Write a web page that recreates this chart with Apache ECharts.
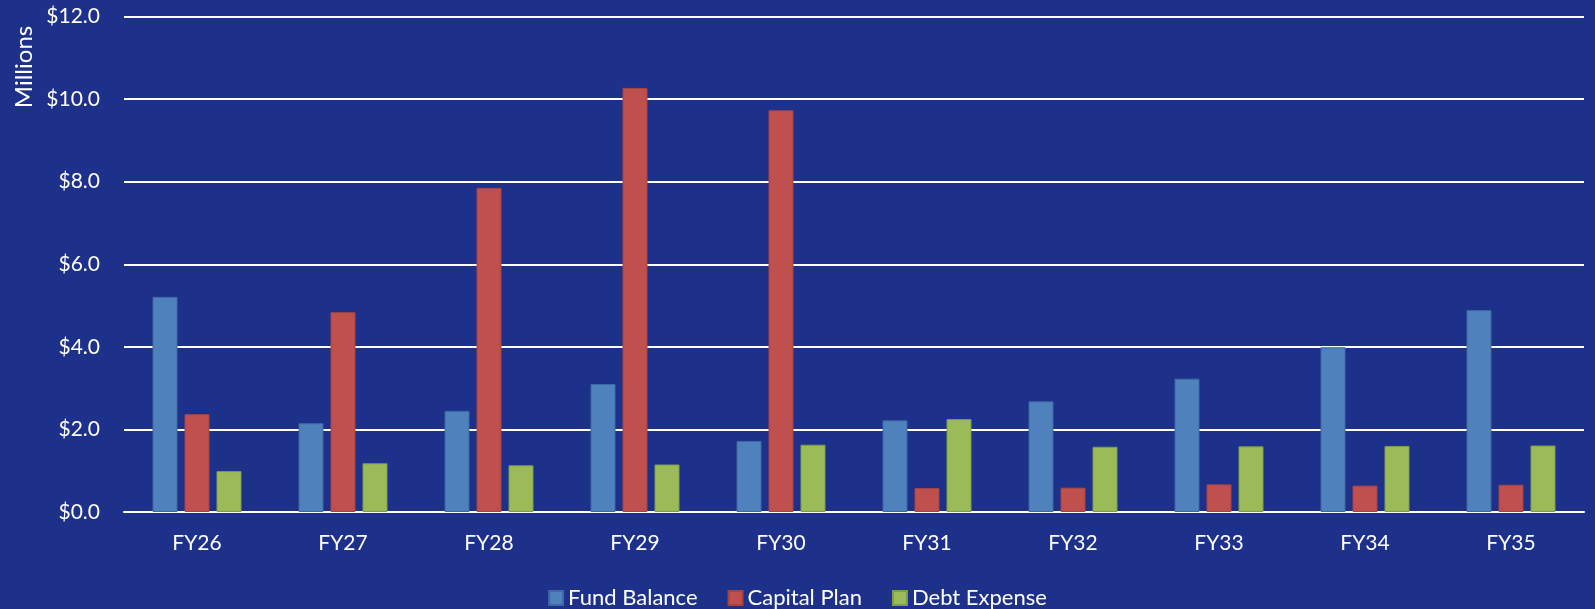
<!DOCTYPE html>
<html>
<head>
<meta charset="utf-8">
<script src="https://cdn.jsdelivr.net/npm/echarts@6/dist/echarts.min.js"></script>
<style>
  html, body { margin: 0; padding: 0; background: #1D318A; }
  #chart { width: 1595px; height: 609px; }
</style>
</head>
<body>
<div id="chart"></div>
<script>
const categories = ['FY26','FY27','FY28','FY29','FY30','FY31','FY32','FY33','FY34','FY35'];
const fundBalance = [5.21, 2.15, 2.45, 3.10, 1.72, 2.22, 2.68, 3.23, 3.99, 4.89];
const capitalPlan = [2.37, 4.84, 7.85, 10.27, 9.73, 0.58, 0.59, 0.67, 0.64, 0.66];
const debtExpense = [0.99, 1.18, 1.13, 1.15, 1.63, 2.25, 1.58, 1.59, 1.60, 1.61];
const seriesNames = ['Fund Balance', 'Capital Plan', 'Debt Expense'];
const yTicks = [0, 2, 4, 6, 8, 10, 12];

const FONT = 'Lato, "Open Sans", sans-serif';
const chart = echarts.init(document.getElementById('chart'));

function bar(name, data, color, border) {
  return {
    name: name, type: 'bar', data: data,
    barWidth: 25, barGap: '28%',
    itemStyle: { color: color, borderColor: border, borderWidth: 1 },
    emphasis: { disabled: true }
  };
}

chart.setOption({
  backgroundColor: '#1D318A',
  animation: false,
  grid: { left: 124, right: 11, top: 16.5, bottom: 97, containLabel: false },
  legend: {
    data: seriesNames,
    top: 582, left: 'center',
    itemWidth: 14, itemHeight: 14, itemGap: 30,
    icon: 'rect',
    textStyle: { color: '#FFFFFF', fontFamily: FONT, fontSize: 22 }
  },
  graphic: [{
    type: 'text',
    x: 24, y: 67,
    rotation: Math.PI / 2,
    style: {
      text: 'Millions', fill: '#FFFFFF', font: '24px ' + FONT,
      align: 'center', verticalAlign: 'middle'
    }
  }],
  xAxis: {
    type: 'category', data: categories,
    axisLine: { show: true, lineStyle: { color: '#FFFFFF', width: 2 } },
    axisTick: { show: false },
    axisLabel: { color: '#FFFFFF', fontFamily: FONT, fontSize: 21, margin: 21 }
  },
  yAxis: {
    type: 'value', min: yTicks[0], max: yTicks[yTicks.length - 1], interval: 2,
    axisLine: { show: false }, axisTick: { show: false },
    splitLine: { lineStyle: { color: '#FFFFFF', width: 2 } },
    axisLabel: {
      color: '#FFFFFF', fontFamily: FONT, fontSize: 21, margin: 24,
      formatter: v => '$' + v.toFixed(1)
    }
  },
  series: [
    bar(seriesNames[0], fundBalance, '#4F81BD', '#3E69A3'),
    bar(seriesNames[1], capitalPlan, '#C0504D', '#A54441'),
    bar(seriesNames[2], debtExpense, '#9BBB59', '#7E9E47')
  ]
});
</script>
</body>
</html>
